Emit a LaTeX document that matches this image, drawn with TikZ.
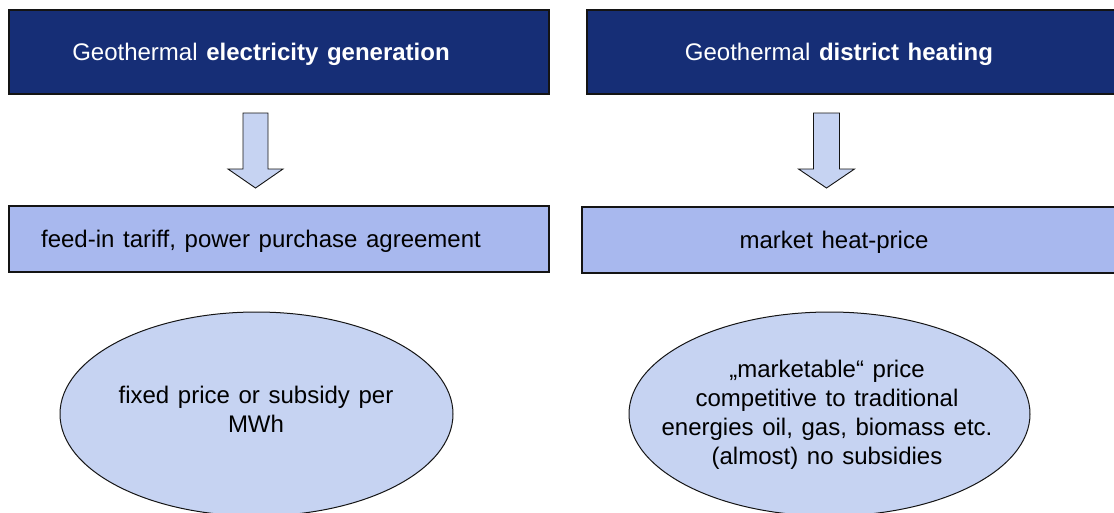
\documentclass[tikz,border=0pt]{standalone}
\usepackage{fontspec}
\setmainfont{Liberation Sans}
\usetikzlibrary{shapes.geometric,calc}
\definecolor{navy}{RGB}{22,46,118}
\definecolor{midblue}{RGB}{168,184,238}
\definecolor{lightblue}{RGB}{198,211,242}
\definecolor{edge}{RGB}{20,20,20}
\newcommand{\widesp}{\spaceskip=1.3\fontdimen2\font plus 1pt\relax}
\tikzset{
  headbox/.style={draw=edge, line width=1.2pt, fill=navy, minimum width=540pt, minimum height=84pt, inner sep=0pt},
  midbox/.style={draw=edge, line width=1.2pt, fill=midblue, minimum width=540pt, minimum height=66pt, inner sep=0pt},
  headtext/.style={text=white, font=\fontsize{24}{28}\selectfont\widesp, inner sep=0pt},
  midtext/.style={text=black, font=\fontsize{24}{28}\selectfont\widesp, inner sep=0pt},
  oval/.style={ellipse, draw=edge, line width=1pt, fill=lightblue, inner sep=0pt},
  ovaltext/.style={text=black, font=\fontsize{24}{29}\selectfont\widesp, align=center, inner sep=0pt},
  blockarrow/.style={draw=edge, line width=0.9pt, fill=lightblue, line join=miter},
}
\begin{document}
\begin{tikzpicture}[x=1pt,y=-1pt]
\useasboundingbox (0,0) rectangle (1114,512);
\clip (0,0) rectangle (1114,512);
% top boxes
\node[headbox] (h1) at (279,52) {};
\node[headtext] (h1t) at ($(h1.center)+(-18,2)$) {Geothermal \textbf{electricity generation}};
\node[headbox] (h2) at (857,52) {};
\node[headtext] (h2t) at ($(h2.center)+(-18,2)$) {Geothermal \textbf{district heating}};
% middle boxes
\node[midbox] (m1) at (279,239) {};
\node[midtext] (m1t) at ($(m1.center)+(-18,2)$) {feed-in tariff, power purchase agreement};
\node[midbox] (m2) at (852,240) {};
\node[midtext] (m2t) at ($(m2.center)+(-18,2)$) {market heat-price};
% ellipses
\node[oval, minimum width=393pt, minimum height=204pt] (e1) at (256.5,414) {};
\node[ovaltext] (e1t) at (256,409) {fixed price or subsidy per\\MWh};
\node[oval, minimum width=401pt, minimum height=204pt] (e2) at (829.5,414) {};
\node[ovaltext] (e2t) at (827,415) {„marketable“ price\\competitive to traditional\\energies oil, gas, biomass etc.\\(almost) no subsidies};
% block arrows
\coordinate (a1) at (255.5,113);
\draw[blockarrow] ($(a1)+(-12.5,0)$) -- ($(a1)+(12.5,0)$) -- ($(a1)+(12.5,56)$) -- ($(a1)+(27.5,56)$) -- ($(a1)+(0,75)$) -- ($(a1)+(-27.5,56)$) -- ($(a1)+(-12.5,56)$) -- cycle;
\coordinate (a2) at (826.5,113);
\draw[blockarrow] ($(a2)+(-13,0)$) -- ($(a2)+(13,0)$) -- ($(a2)+(13,56)$) -- ($(a2)+(28,56)$) -- ($(a2)+(0,75)$) -- ($(a2)+(-28,56)$) -- ($(a2)+(-13,56)$) -- cycle;
\end{tikzpicture}
\end{document}
